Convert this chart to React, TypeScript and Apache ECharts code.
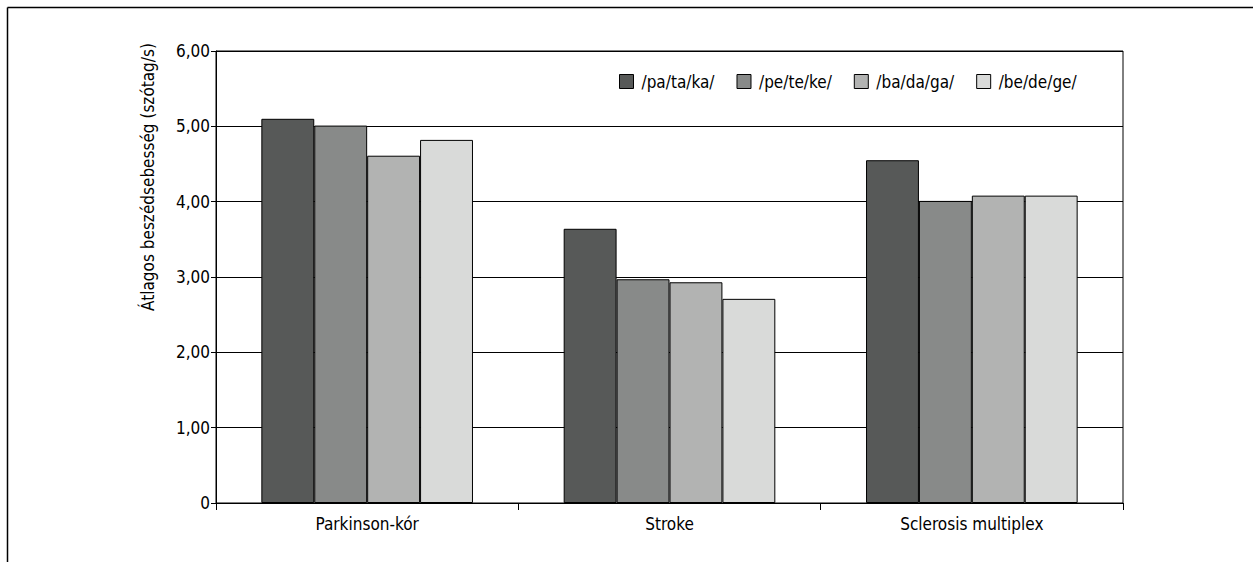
import React, { useEffect, useRef } from "react";
import * as echarts from "echarts";

const categories = ["Parkinson-kór", "Stroke", "Sclerosis multiplex"];
const seriesNames = ["/pa/ta/ka/", "/pe/te/ke/", "/ba/da/ga/", "/be/de/ge/"];
const pataka = [5.1, 3.64, 4.55];
const petekee = [5.01, 2.97, 4.01];
const badaga = [4.61, 2.93, 4.08];
const bedege = [4.82, 2.71, 4.08];
const seriesValues = [pataka, petekee, badaga, bedege];
const colors = ["#575958", "#888a89", "#b2b3b2", "#d9dad9"];
const yTicks = [0, 1, 2, 3, 4, 5, 6];

const FONT = "'Liberation Sans Narrow', 'DejaVu Sans Condensed', sans-serif";

export default function App() {
  const ref = useRef<HTMLDivElement>(null);
  useEffect(() => {
    const chart = echarts.init(ref.current!, null, { renderer: "svg" });
    chart.setOption({
      animation: false,
      textStyle: { fontFamily: FONT, color: "#000" },
      grid: {
        left: 216,
        right: 130,
        top: 51,
        bottom: 59,
        show: true,
        borderColor: "#000",
        borderWidth: 1,
      },
      legend: {
        left: 619,
        top: 73,
        padding: 0,
        icon: "rect",
        itemWidth: 14,
        itemHeight: 14,
        itemGap: 22,
        data: seriesNames,
        itemStyle: { borderColor: "#000", borderWidth: 1 },
        textStyle: { fontFamily: FONT, fontSize: 17, color: "#000", padding: [0, 0, 0, 3] },
      },
      xAxis: {
        type: "category",
        data: categories,
        axisLine: { lineStyle: { color: "#000", width: 1 } },
        axisTick: { show: true, length: 7, lineStyle: { color: "#000" } },
        axisLabel: { fontFamily: FONT, fontSize: 17, color: "#000", margin: 12 },
      },
      yAxis: {
        type: "value",
        min: yTicks[0],
        max: yTicks[yTicks.length - 1],
        interval: 1,
        axisLine: { show: true, lineStyle: { color: "#000", width: 1 } },
        axisTick: { show: true, length: 5, lineStyle: { color: "#000" } },
        splitLine: { show: true, lineStyle: { color: "#000", width: 1 } },
        axisLabel: {
          fontFamily: FONT,
          fontSize: 17,
          color: "#000",
          margin: 6,
          formatter: (v: number) => (v === 0 ? "0" : v.toFixed(2).replace(".", ",")),
        },
      },
      series: seriesNames.map((name, i) => ({
        name,
        type: "bar",
        data: seriesValues[i],
        barGap: "0%",
        barCategoryGap: "30%",
        itemStyle: { color: colors[i], borderColor: "#000", borderWidth: 1 },
      })),
      graphic: [
        {
          type: "line",
          shape: { x1: 7.5, y1: 7.5, x2: 1253, y2: 7.5 },
          style: { stroke: "#000", lineWidth: 1.5 },
        },
        {
          type: "line",
          shape: { x1: 7.5, y1: 7.5, x2: 7.5, y2: 562 },
          style: { stroke: "#000", lineWidth: 1.5 },
        },
        {
          type: "text",
          x: 148,
          y: 177,
          rotation: Math.PI / 2,
          style: {
            text: "Átlagos beszédsebesség (szótag/s)",
            fontFamily: FONT,
            fontSize: 17,
            fill: "#000",
            align: "center",
            verticalAlign: "middle",
          },
        },
      ],
    });
    return () => chart.dispose();
  }, []);
  return (
    <div
      ref={ref}
      style={{ position: "absolute", left: 0, top: 0, width: 1253, height: 562, background: "#fff" }}
    />
  );
}
